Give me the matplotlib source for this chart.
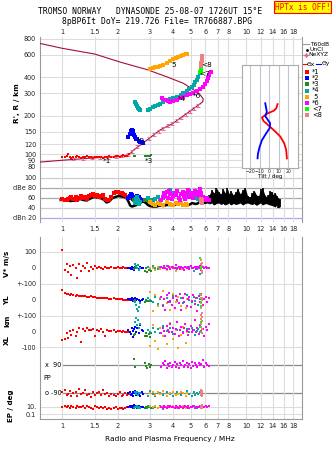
import numpy as np
import matplotlib
matplotlib.use('Agg')
import matplotlib.pyplot as plt
from matplotlib.lines import Line2D
from matplotlib.ticker import NullLocator

# ---- data ----
fticks = [1, 1.5, 2, 3, 4, 5, 6, 7, 8, 10, 12, 14, 16, 18]
flabels = ['1', '1.5', '2', '3', '4', '5', '6', '7', '8', '10', '12', '14', '16', '18']
hticks = [80, 90, 100, 120, 150, 200, 300, 400, 600, 800]

# electron density profile (plasma frequency vs height), bottomside then topside
prof_f = [0.75, 1.0, 1.5, 2.0, 2.3, 2.44, 2.88, 3.4, 4.0, 4.76, 5.5, 5.81, 5.85, 5.6, 5.39, 4.56, 3.7, 2.9, 2.06, 1.5, 1.0, 0.75]
prof_h = [87, 90, 94, 96, 99, 108, 129, 155, 175, 209, 243, 258, 272, 295, 309, 360, 405, 460, 528, 610, 676, 740]
ne_f = [1.15, 1.3, 1.45, 1.6, 1.78, 1.95, 2.1, 2.28, 2.4, 2.55, 2.75, 2.95, 3.15, 3.35, 3.55, 3.75, 3.95, 4.2, 4.45, 4.7, 4.95, 5.2, 5.45]
ne_h = [92, 93, 94, 95, 95, 96, 97, 100, 106, 115, 124, 133, 143, 152, 160, 168, 174, 183, 193, 205, 217, 230, 243]

# mode *1 (red)
red_f = [1.0, 1.03, 1.06, 1.08, 1.1, 1.12, 1.15, 1.18, 1.2, 1.23, 1.26, 1.3, 1.33, 1.36, 1.4, 1.43, 1.47, 1.5,
         1.54, 1.58, 1.62, 1.66, 1.7, 1.75, 1.8, 1.85, 1.9, 1.95, 2.0, 2.05, 2.1, 2.15, 2.2, 2.25, 2.3]
red_h = [96, 95, 97, 100, 95, 94, 96, 95, 97, 95, 94, 96, 95, 97, 96, 95, 94, 96, 95, 96, 95, 94, 95, 96, 97,
         95, 96, 98, 97, 96, 97, 99, 98, 97, 100]
red_db = [58, 57, 56, 58, 60, 63, 59, 62, 57, 61, 65, 60, 62, 58, 64, 66, 68, 65, 67, 63, 64, 66, 58, 55, 57,
          62, 70, 72, 73, 71, 70, 68, 66, 62, 60]
red_v = [108, -12, 22, -30, 8, -45, 15, -5, -62, 25, -18, 10, 0, 30, -20, 5, -8, 12, -4, 6, 0, -6, 4, 0, -3,
         2, 0, -2, 3, 0, -1, 2, 0, -3, 1]
red_yl = [62, 45, 38, 40, 34, 36, 30, 28, 32, 25, 27, 22, 24, 20, 18, 22, 16, 18, 14, 15, 12, 14, 10, 12, 9,
          8, 10, 6, 7, 5, 4, 3, 2, 1, 0]
red_xl = [-52, -45, -10, -40, 5, -20, 10, -30, 0, 25, -62, 15, 5, 20, 12, 8, 18, -25, 10, 5, 15, 0, -30, 8, 5,
          2, 10, 0, 5, 3, 0, 2, -2, 0, 1]
red_pp = [-85, -70, -100, -95, -75, -110, -90, -80, -105, -65, -95, -88, -72, -100, -92, -115, -80, -98, -90,
          -85, -100, -70, -95, -88, -105, -92, -100, -110, -95, -85, -105, -98, -90, -100, -95]
red_ep = [10, 12, 8, 15, 6, 20, 9, 5, 14, 11, 7, 18, 4, 13, 9, 6, 3, 12, 8, 5, 10, 4, 7, 2, 6, 3, 5, 8, 2, 4,
          6, 3, 5, 7, 10]

# mode *2 (blue)
blue_f = [2.29, 2.33, 2.37, 2.39, 2.42, 2.44, 2.47, 2.49, 2.52, 2.56, 2.6, 2.65, 2.7, 2.74]
blue_h = [138, 145, 152, 156, 153, 149, 143, 138, 133, 131, 128, 126, 124, 123]
blue_db = [60, 65, 68, 66, 62, 58, 55, 57, 60, 64, 62, 58, 56, 55]
blue_v = [-5, 0, -10, 2, -8, 0, -12, 5, -3, 0, -6, 2, -4, 0]
blue_yl = [8, 5, 0, 10, 2, -5, 6, 12, -2, 4, 0, -8, 3, 5]
blue_xl = [10, 0, -15, 20, 5, -35, 15, 30, 0, 25, -10, 40, 12, 5]
blue_pp = [-90, -80, -100, -95, -85, -105, -90, -75, -100, -88, -95, -110, -85, -92]
blue_ep = [10, 15, 8, 20, 6, 12, 25, 9, 14, 5, 18, 7, 11, 9]

# mode *3 (green)
green_f = [2.47, 2.48, 2.82, 2.86, 2.9, 2.95, 3.0, 3.05]
green_h = [97, 98, 97, 98, 98, 97, 98, 99]
green_db = [56, 55, 56, 55, 57, 54, 56, 55]
green_v = [-10, 0, -20, -5, -30, -12, -2, -18]
green_yl = [-5, 0, -10, 2, -4, -8, 0, -6]
green_xl = [-20, -12, -30, -10, -25, -15, -33, -8]
green_pp = [130, 75, 100, 85, 70, 95, 80, 90]
green_ep = [6, 8, 5, 10, 4, 7, 12, 6]

# mode *4 (teal)
teal_f = [2.5, 2.52, 2.55, 2.58, 2.62, 2.65, 2.93, 3.0, 3.1, 3.2, 3.3, 3.42, 3.53, 3.7, 3.85, 4.02, 4.2, 4.4,
          4.56, 4.75, 4.9, 5.06, 5.2, 5.3, 5.39, 5.5, 5.6]
teal_h = [258, 250, 240, 232, 225, 222, 222, 228, 235, 240, 245, 250, 258, 266, 270, 274, 282, 292, 300, 312,
          325, 337, 352, 368, 382, 405, 430]
teal_db = [50, 58, 62, 55, 48, 52, 60, 56, 52, 58, 62, 55, 60, 72, 76, 70, 74, 68, 72, 66, 74, 70, 68, 72, 60, 58, 62]
teal_v = [25, 10, -5, 15, -12, 0, 5, -8, 12, 0, -10, 6, -4, 8, -2, 4, -6, 2, 0, -5, 3, 0, -20, 5, -8, 2, -40]
teal_yl = [-10, -30, -55, -70, -45, -20, 10, 0, -15, 20, -25, 5, -30, 15, -10, 25, -5, 10, -20, 30, 0, -15, 20,
           -8, 12, -30, 5]
teal_xl = [60, 85, 40, 70, 20, 50, 10, -5, 25, 0, 15, -10, 35, 5, 20, -15, 10, 30, -5, 15, 0, 25, 10, -20, 5, 15, 0]
teal_pp = [-85, -95, -80, -100, -90, -88, -110, -75, -95, -105, -85, -90, -100, -80, -95, -110, -85, -100, -90,
           -75, -95, -105, -85, -100, -90, -95, -85]
teal_ep = [10, 8, 12, 6, 9, 5, 14, 8, 4, 10, 6, 12, 3, 7, 9, 15, 5, 8, 11, 6, 4, 9, 13, 7, 5, 10, 8]

# mode 5 (orange)
orange_f = [3.0, 3.1, 3.2, 3.3, 3.4, 3.55, 3.7, 3.86, 4.0, 4.15, 4.28, 4.4, 4.55, 4.7, 4.76]
orange_h = [463, 470, 480, 485, 493, 505, 520, 541, 555, 565, 577, 585, 595, 605, 612]
orange_db = [52, 48, 46, 50, 47, 45, 52, 48, 46, 50, 47, 49, 46, 48, 45]
orange_v = [-5, 0, -15, 3, -8, 0, -12, 2, -4, -20, 0, -6, -10, 4, -2]
orange_yl = [50, -70, 30, -40, 10, 55, -20, -60, 40, -10, 20, -35, 15, -50, 5]
orange_xl = [-90, 40, -60, -110, 20, -30, -80, 55, -45, 10, -100, -20, 30, -70, 0]
orange_pp = [-90, -80, -100, -85, -95, -75, -105, -90, -85, -100, -95, -80, -90, -110, -88]
orange_ep = [12, 8, 15, 6, 10, 20, 7, 9, 14, 5, 11, 8, 16, 6, 10]

# mode *6 (magenta): trace on the ionogram, denser set for the lower panels
mag_f = [3.47, 3.6, 3.75, 3.86, 4.0, 4.2, 4.37, 4.55, 4.75, 4.95, 5.17, 5.4, 5.65, 5.86, 6.0, 6.1, 6.22, 6.32, 6.42]
mag_h = [274, 268, 262, 258, 262, 268, 274, 282, 290, 296, 300, 312, 325, 337, 355, 375, 394, 420, 443]
mag_lf = [3.45, 3.52, 3.58, 3.63, 3.7, 3.76, 3.82, 3.88, 3.95, 4.02, 4.08, 4.15, 4.22, 4.3, 4.37, 4.45, 4.52, 4.6,
          4.68, 4.76, 4.84, 4.92, 5.0, 5.08, 5.16, 5.25, 5.34, 5.43, 5.52, 5.62, 5.72, 5.82, 5.92, 6.02, 6.15, 6.3]
mag_db = [55, 62, 70, 65, 72, 60, 75, 68, 58, 64, 70, 66, 74, 60, 56, 68, 72, 64, 58, 70, 76, 62, 66, 70, 60, 74,
          68, 72, 64, 78, 70, 62, 58, 55, 60, 56]
mag_v = [5, -3, 8, 0, -6, 12, 2, -10, 4, 0, -4, 15, -2, 6, -8, 3, 0, -12, 7, -1, 4, -6, 10, 0, -3, 5, -9, 2, 0, 8,
         -14, 3, -5, 6, 0, -2]
mag_yl = [20, -40, 5, -60, 30, -15, 45, -5, -30, 10, -50, 25, 0, -20, 35, -65, 15, -10, 40, -35, 5, 20, -45, -5,
          30, -25, 10, -70, 25, -15, 40, -30, 5, 20, -10, 15]
mag_xl = [-10, 20, 5, -25, 35, 10, -5, 50, 0, 25, -15, 15, 60, -30, 8, 30, -8, 20, 45, 5, -20, 15, 35, -5, 10, 70,
          0, 25, -12, 40, 5, 18, -25, 30, 10, 50]
mag_pp = [80, 100, 90, 115, 70, 95, 85, 105, 75, 90, 110, 80, 95, 70, 100, 88, 115, 75, 92, 105, 80, 95, 70, 110,
          85, 100, 90, 75, 105, 88, 95, 120, 80, 100, 90, 85]
mag_ep = [10, 6, 14, 8, 5, 12, 9, 16, 7, 11, 4, 13, 8, 6, 15, 10, 5, 9, 12, 7, 18, 6, 10, 8, 14, 5, 11, 9, 7, 13,
          6, 10, 8, 20, 9, 12]

# mode <7 (lime) and <8 (pink)
lime_f = [5.62, 5.66, 5.7]
lime_h = [445, 452, 460]
lime_db = [55, 58, 52]
lime_v = [58, 2, -5]
lime_yl = [35, -10, -40]
lime_xl = [30, 0, 60]
pink_f = [5.7, 5.7, 5.72, 5.72, 5.74, 5.75, 5.73, 5.76]
pink_h = [475, 490, 505, 520, 540, 555, 570, 585]
pink_db = [52, 55, 58, 54, 50, 56, 53, 57]
pink_v = [48, 20, 0, -10, -33, 10, -20, 30]
pink_yl = [30, 10, -20, -50, -83, 0, -35, 15]
pink_xl = [105, 80, 50, 30, -8, 65, 15, 90]
pink_pp = [-70, -80, -90, -100, -110, -85, -95, -75]
pink_ep = [5, 8, 12, 20, 30, 10, 15, 6]

# tilt profiles (inset)
tiltx_deg = [8.8, 7.4, 4.6, -1.8, -7.7, -6.0, -3.2, 1.0, 6.3, 11.6, 15.8, 17.9, 18.6]
tiltx_h = [247, 229, 219, 209, 194, 182, 175, 164, 151, 138, 122, 108, 93]
tilty_deg = [-4.2, -3.2, -2.5, -4.2, -2.5, 1.0, 0.4, -3.2, -7.7, -10.2, -11.9, -12.3]
tilty_h = [251, 229, 215, 199, 191, 175, 160, 146, 129, 114, 101, 93]

# amplitude (dBe) trace and the noise band at high frequency
amp_f = [0.98, 1.05, 1.1, 1.18, 1.25, 1.3, 1.36, 1.42, 1.48, 1.55, 1.64, 1.7, 1.74, 1.8, 1.86, 1.94, 2.02, 2.1,
         2.19, 2.25, 2.29, 2.34, 2.39, 2.45, 2.54, 2.62, 2.7, 2.76, 2.85, 2.92, 3.0, 3.1, 3.26, 3.4, 3.55, 3.7,
         3.86, 4.0, 4.2, 4.37, 4.6, 4.8, 4.94, 5.1, 5.3, 5.45, 5.6, 5.8, 6.0, 6.2]
amp_db = [56, 57, 54, 55, 58, 56, 55, 59, 62, 61, 59, 55, 51, 53, 59, 62, 64, 63, 62, 58, 53, 45, 43, 44, 46, 50,
          52, 53, 50, 46, 44, 43, 43, 45, 44, 46, 46, 45, 48, 49, 47, 46, 47, 50, 48, 49, 52, 52, 50, 52]
noise_f = [6.3, 6.5, 6.7, 6.9, 7.1, 7.3, 7.5, 7.7, 7.9, 8.1, 8.3, 8.5, 8.8, 9.0, 9.3, 9.6, 9.9, 10.2, 10.5, 10.8,
           11.1, 11.4, 11.7, 12.0, 12.3, 12.6, 12.9, 13.2, 13.5, 13.8, 14.1, 14.4, 14.7, 15.0, 15.3]
noise_top = [66, 76, 70, 80, 72, 68, 78, 70, 80, 68, 74, 66, 72, 79, 68, 76, 80, 64, 62, 70, 74, 66, 64, 78, 80,
             68, 62, 66, 74, 72, 66, 70, 64, 60, 58]
noise_bot = [48, 50, 46, 49, 50, 47, 49, 46, 48, 50, 46, 49, 47, 48, 50, 46, 49, 50, 48, 47, 49, 45, 48, 50, 46,
             48, 49, 47, 46, 45, 44, 42, 46, 40, 42]

COL = {'red': '#ff0000', 'blue': '#0000ff', 'green': '#228b22', 'teal': '#00a8a8',
       'orange': '#ffa500', 'mag': '#ff00ff', 'lime': '#00ff00', 'pink': '#f08080'}

# ---- figure in pixel layout ----
W, H = 335, 451
fig = plt.figure(figsize=(W / 100, H / 100), dpi=100)


def box(x0, y0, x1, y1):
    return [x0 / W, 1 - y1 / H, (x1 - x0) / W, (y1 - y0) / H]


def fx(x):
    return x / W


def fy(y):
    return 1 - y / H


FMIN, FMAX = 0.751, 20.1
GRID = '#dcdcdc'
SPINE = '#999999'
TS = 4.7  # tick label size


def freq_axis(ax, labels_where):
    ax.set_xscale('log')
    ax.set_xlim(FMIN, FMAX)
    ax.set_xticks(fticks)
    ax.set_xticklabels(flabels)
    ax.xaxis.set_minor_locator(NullLocator())
    ax.grid(True, axis='x', color=GRID, lw=0.8)
    if labels_where == 'top':
        ax.xaxis.tick_top()
    ax.tick_params(length=0, labelsize=TS, pad=1.5, colors='#222222')
    for s in ax.spines.values():
        s.set_color(SPINE)
        s.set_linewidth(0.8)


def sq(ax, f, y, c, ms=1.8, **kw):
    ax.plot(f, y, 's', color=c, ms=ms, mew=0, ls='none', **kw)


# main ionogram panel
ax = fig.add_axes(box(39.5, 37, 301.7, 170))
freq_axis(ax, 'top')
ax.set_yscale('log')
ax.set_ylim(75.5, 829)
ax.set_yticks(hticks)
ax.set_yticklabels([str(h) for h in hticks])
ax.yaxis.set_minor_locator(NullLocator())
ax.grid(True, axis='y', color=GRID, lw=0.8)
ax.spines['top'].set_visible(False)
ax.spines['bottom'].set_visible(False)
ax.tick_params(axis='y', pad=2.5)

ax.plot(prof_f, prof_h, color='#a0103c', lw=0.8, zorder=3)
ne_err = [np.array(ne_h) * 0.025, np.array(ne_h) * 0.025]
ax.errorbar(ne_f, ne_h, yerr=ne_err, fmt='none', ecolor='#e0608a', elinewidth=0.6, capsize=1.2,
            capthick=0.6, zorder=3)

sq(ax, red_f, red_h, COL['red'], ms=2.0, zorder=4)
sq(ax, blue_f, blue_h, COL['blue'], ms=2.4, zorder=4)
sq(ax, green_f, green_h, COL['green'], ms=2.0, zorder=4)
sq(ax, teal_f, teal_h, COL['teal'], ms=2.6, zorder=4)
sq(ax, orange_f, orange_h, COL['orange'], ms=2.2, zorder=4)
sq(ax, mag_f, mag_h, COL['mag'], ms=2.6, zorder=4)
sq(ax, pink_f, pink_h, COL['pink'], ms=2.4, zorder=4)
sq(ax, lime_f, lime_h, COL['lime'], ms=2.6, zorder=5)

mode_tags = [('*1', 1.74, 88), ('*2', 2.68, 128), ('*3', 2.95, 89), ('*4', 4.45, 270),
             ('*6', 5.42, 286), ('5', 4.02, 500), ('<7', 5.95, 425), ('<8', 6.08, 505)]
for t, f, h in mode_tags:
    ax.text(f, h, t, fontsize=5.2, ha='center', va='center', color='black', zorder=6)

ax.set_ylabel("R', R / km", fontsize=5.3, fontweight='bold', labelpad=3)

# tilt inset
axt = fig.add_axes(box(241.7, 65, 297.7, 167.7))
axt.set_zorder(10)
axt.set_facecolor('white')
axt.set_yscale('log')
axt.set_ylim(78.6, 500)
axt.set_xlim(-29, 30)
axt.set_yticks([])
axt.yaxis.set_minor_locator(NullLocator())
axt.set_xticks([-20, -10, 0, 10, 20])
axt.grid(True, axis='x', color='#c4c4d4', lw=0.8)
axt.tick_params(length=0, labelsize=3.3, pad=0.8, colors='#222222')
axt.set_xlabel('Tilt / deg', fontsize=4.1, labelpad=0)
for s in axt.spines.values():
    s.set_color('#aaaaaa')
axt.plot(tiltx_deg, tiltx_h, color='red', lw=1.3)
axt.plot(tilty_deg, tilty_h, color='blue', lw=1.3)

# amplitude panel
ax2 = fig.add_axes(box(39.5, 170, 301.7, 222))
freq_axis(ax2, 'bottom')
ax2.set_ylim(12, 116)
ax2.set_yticks([100, 80, 60, 40, 20])
ax2.set_yticklabels(['100', 'dBe 80', '60', '40', 'dBn 20'])
ax2.tick_params(axis='y', pad=2.5)
ax2.tick_params(axis='x', pad=3)
ax2.spines['top'].set_visible(False)
ax2.spines['bottom'].set_visible(False)
for lvl, c in [(100, '#cccccc'), (80, '#aaaaaa'), (60, '#aaaaaa'), (40, '#cccccc'), (20, '#aaaaee')]:
    ax2.axhline(lvl, color=c, lw=0.9, zorder=1)
ax2.fill_between(noise_f, noise_bot, noise_top, color='black', lw=0, zorder=2)
ax2.vlines(noise_f, noise_bot, noise_top, color='black', lw=1.2, zorder=2)
ax2.plot(amp_f, amp_db, color='black', lw=1.8, zorder=2)
sq(ax2, red_f, red_db, COL['red'], ms=2.2, zorder=3)
sq(ax2, blue_f, blue_db, COL['blue'], ms=2.2, zorder=3)
sq(ax2, green_f, green_db, COL['green'], ms=2.2, zorder=3)
sq(ax2, teal_f, teal_db, COL['teal'], ms=2.4, zorder=3)
sq(ax2, orange_f, orange_db, COL['orange'], ms=2.2, zorder=3)
sq(ax2, mag_lf, mag_db, COL['mag'], ms=2.4, zorder=3)
sq(ax2, pink_f, pink_db, COL['pink'], ms=2.4, zorder=3)

# lower panel: V*, YL, XL, PP, EP stacked in one frame
ax3 = fig.add_axes(box(39.5, 237, 301.7, 419))
freq_axis(ax3, 'bottom')
ax3.set_ylim(419, 237)
ax3.spines['top'].set_visible(False)
ax3.tick_params(axis='x', pad=3)
V0, YL0, XL0, K = 267.7, 300.0, 331.7, 0.16
PP0, PPK = 379.15, 0.157
EP10, EPK = 406.7, 3.8
row_ticks = [251.7, 267.7, 284, 300, 316, 331.7, 347.3, 406.7, 414.3]
ax3.set_yticks(row_ticks)
ax3.set_yticklabels(['100', '0', '+-100', '0', '+-100', '0', '-100', '10.', '0.1'])
ax3.tick_params(axis='y', pad=2.5)
for lvl in [251.7, 284, 316, 347.3, 406.7, 414.3]:
    ax3.axhline(lvl, color=GRID, lw=0.8, zorder=1)
for lvl in [365, 393.3]:
    ax3.axhline(lvl, xmin=0.09, color='#888888', lw=0.9, zorder=1)


def rows(f, v=None, yl=None, xl=None, pp=None, ep=None, c='k', ms=1.8):
    f = np.array(f)
    if v is not None:
        sq(ax3, f, V0 - np.array(v) * K, c, ms=ms, zorder=3)
    if yl is not None:
        sq(ax3, f, YL0 - np.array(yl) * K, c, ms=ms, zorder=3)
    if xl is not None:
        sq(ax3, f, XL0 - np.array(xl) * K, c, ms=ms, zorder=3)
    if pp is not None:
        sq(ax3, f, PP0 - np.array(pp) * PPK, c, ms=ms, zorder=3)
    if ep is not None:
        sq(ax3, f, EP10 - (np.log10(ep) - 1) * EPK, c, ms=ms, zorder=3)


rows(red_f, red_v, red_yl, red_xl, red_pp, red_ep, COL['red'])
rows(blue_f, blue_v, blue_yl, blue_xl, blue_pp, blue_ep, COL['blue'])
rows(green_f, green_v, green_yl, green_xl, green_pp, green_ep, COL['green'])
rows(teal_f, teal_v, teal_yl, teal_xl, teal_pp, teal_ep, COL['teal'])
rows(orange_f, orange_v, orange_yl, orange_xl, orange_pp, orange_ep, COL['orange'])
rows(mag_lf, mag_v, mag_yl, mag_xl, mag_pp, mag_ep, COL['mag'])
rows(pink_f, pink_v, pink_yl, pink_xl, pink_pp, pink_ep, COL['pink'])
rows(lime_f, lime_v, lime_yl, lime_xl, c=COL['lime'])

# text labels of the lower panel
fig.text(fx(61.5), fy(365), 'x  90', fontsize=TS, ha='right', va='center')
fig.text(fx(61.5), fy(393.3), 'o -90', fontsize=TS, ha='right', va='center')
fig.text(fx(43), fy(378), 'PP', fontsize=TS, ha='left', va='center')
lab = dict(fontsize=5.1, fontweight='bold', rotation=90, ha='center', va='center')
fig.text(fx(7), fy(264), 'V* m/s', **lab)
fig.text(fx(7), fy(300), 'YL', **lab)
fig.text(fx(7), fy(321), 'km', **lab)
fig.text(fx(7), fy(340), 'XL', **lab)
fig.text(fx(11), fy(406), 'EP / deg', **lab)
fig.text(fx(170), fy(439), 'Radio and Plasma Frequency / MHz', fontsize=5.3, ha='center', va='center')

# header
mono = 'DejaVu Sans Mono'
fig.text(fx(150), fy(12), 'TROMSO NORWAY   DYNASONDE 25-08-07 1726UT 15\u00b0E', family=mono,
         fontsize=5.8, ha='center', va='center')
fig.text(fx(157), fy(21), '8pBP6It DoY= 219.726 File= TR766887.BPG', family=mono,
         fontsize=5.8, ha='center', va='center')
fig.text(fx(302.5), fy(7), 'HPTx is OFF!', family=mono, fontsize=5.6, color='red', ha='center', va='center',
         bbox=dict(boxstyle='square,pad=0.15', facecolor='yellow', edgecolor='red', lw=0.8))


# legend to the right of the ionogram
def legline(x0, x1, y, **kw):
    fig.add_artist(Line2D([fx(x0), fx(x1)], [fy(y), fy(y)], **kw))


LS = 4.3
legline(302.5, 309, 44, color='#999999', lw=0.8)
fig.text(fx(310), fy(44), 'T60dB', fontsize=LS, va='center')
legline(307, 307, 49.5, color='black', marker='.', ms=1.5, ls='none')
fig.text(fx(310), fy(49.5), 'UnCl', fontsize=LS, va='center')
legline(302.5, 308, 55, color='#e0608a', lw=0.6)
legline(305.5, 305.5, 55, color='#e0608a', marker='+', ms=3.2, ls='none')
fig.text(fx(308.5), fy(55), 'NeXYZ', fontsize=LS, va='center')
legline(302.5, 306.5, 64, color='red', lw=0.8)
fig.text(fx(307), fy(64), '\u0398x', fontsize=LS, va='center')
legline(316, 321, 64, color='blue', lw=0.8)
fig.text(fx(322), fy(64), '\u0398y', fontsize=LS, va='center')

leg_items = [('*1', COL['red'], 72.3), ('*2', COL['blue'], 78.3), ('*3', COL['green'], 84.3),
             ('*4', COL['teal'], 90.5), (' 5', COL['orange'], 96.7), ('*6', COL['mag'], 102.7),
             ('<7', COL['lime'], 108.7), ('<8', COL['pink'], 115)]
for t, c, y in leg_items:
    legline(307, 307, y, color=c, marker='s', ms=2.2, mew=0, ls='none')
    fig.text(fx(312), fy(y), t, fontsize=4.8, va='center')

fig.savefig('out.png', dpi=100)
